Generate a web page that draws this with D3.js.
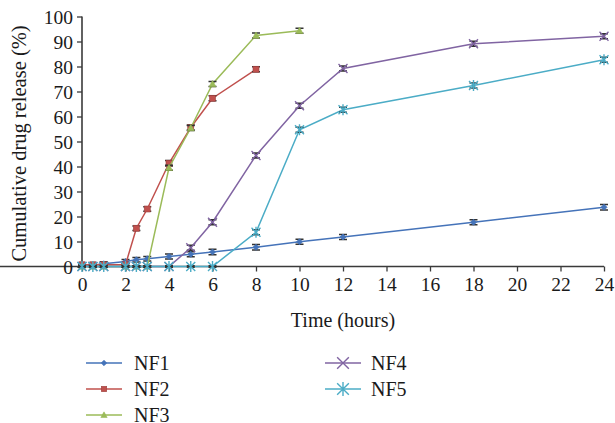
<!DOCTYPE html>
<html>
<head>
<meta charset="utf-8">
<script src="https://cdn.jsdelivr.net/npm/d3@7"></script>
<style>
  html, body { margin: 0; padding: 0; background: #fff; }
  svg { display: block; }
  text { font-family: "Liberation Serif", "DejaVu Serif", serif; fill: #1a1a1a; }
</style>
</head>
<body>
<svg id="chart" width="615" height="423"></svg>
<script>
// ---- data ----
const seriesNames = ["NF1", "NF2", "NF3", "NF4", "NF5"];
const timesLong = [0, 0.5, 1, 2, 2.5, 3, 4, 5, 6, 8, 10, 12, 18, 24];
const timesNF2 = [0, 0.5, 1, 2, 2.5, 3, 4, 5, 6, 8];
const timesNF3 = [0, 0.5, 1, 2, 2.5, 3, 4, 5, 6, 8, 10];
const nf1 = [0.3, 0.5, 1.1, 2.0, 2.7, 3.1, 4.0, 4.9, 5.8, 7.7, 9.9, 11.8, 17.7, 23.7];
const nf2 = [0.7, 0.7, 0.7, 0.7, 15.3, 23.0, 41.3, 55.6, 67.3, 78.9];
const nf3 = [0, 0, 0, 0, 0, 0, 39.5, 55.4, 73.0, 92.4, 94.3];
const nf4 = [0, 0, 0, 0, 0, 0, 0, 7.5, 17.7, 44.4, 64.3, 79.2, 89.1, 92.1];
const nf5 = [0, 0, 0, 0, 0, 0, 0, 0, 0, 13.7, 54.7, 62.7, 72.4, 82.7];
const errNF1 = [0.4, 0.4, 0.8, 0.8, 0.9, 0.9, 1.0, 1.0, 1.1, 1.1, 1.0, 1.0, 1.0, 1.1];
const errNF2 = [0.4, 0.4, 0.4, 0.4, 0.9, 0.9, 1.1, 1.0, 1.0, 1.0];
const errNF3 = [0.3, 0.3, 0.3, 0.3, 0.3, 0.3, 1.0, 1.0, 1.0, 1.0, 1.0];
const errNF4 = [0.3, 0.3, 0.3, 0.3, 0.3, 0.3, 0.3, 1.0, 1.0, 1.0, 1.0, 1.0, 1.0, 1.0];
const errNF5 = [0.3, 0.3, 0.3, 0.3, 0.3, 0.3, 0.3, 0.3, 0.3, 1.0, 1.0, 1.0, 1.0, 1.0];
const xTicks = [0, 2, 4, 6, 8, 10, 12, 14, 16, 18, 20, 22, 24];
const yTicks = [0, 10, 20, 30, 40, 50, 60, 70, 80, 90, 100];
const xTitle = "Time (hours)";
const yTitle = "Cumulative drug release (%)";

// ---- styling ----
const colors = ["#4573B9", "#C0504D", "#9BBB59", "#8064A2", "#4BACC6"];
const markers = ["diamond", "square", "triangle", "x", "star"];

const svg = d3.select("#chart");
const x = d3.scaleLinear().domain([0, 24]).range([82, 604]);
const y = d3.scaleLinear().domain([0, 100]).range([266.5, 16.5]);

const series = [
  { name: seriesNames[0], t: timesLong, v: nf1, e: errNF1 },
  { name: seriesNames[1], t: timesNF2, v: nf2, e: errNF2 },
  { name: seriesNames[2], t: timesNF3, v: nf3, e: errNF3 },
  { name: seriesNames[3], t: timesLong, v: nf4, e: errNF4 },
  { name: seriesNames[4], t: timesLong, v: nf5, e: errNF5 }
];

// axes
const axisColor = "#3a3a3a";
const gx = svg.append("g").attr("transform", `translate(0,${y(0)})`)
  .call(d3.axisBottom(x).tickValues(xTicks).tickSize(5).tickPadding(6).tickFormat(d3.format("d")));
const gy = svg.append("g").attr("transform", `translate(${x(0)},0)`)
  .call(d3.axisLeft(y).tickValues(yTicks).tickSize(5).tickPadding(4).tickFormat(d3.format("d")));
[gx, gy].forEach(g => {
  g.select(".domain").attr("stroke", axisColor).attr("stroke-width", 1.6);
  g.selectAll(".tick line").attr("stroke", axisColor).attr("stroke-width", 1.3);
  g.selectAll(".tick text").attr("font-family", "Liberation Serif, serif").attr("font-size", 19.5).attr("fill", "#1a1a1a");
});
gy.select(".domain").attr("d", `M0,${y(0)}V${y(100)}`);
gx.select(".domain").attr("d", `M0,0H${x(24)}`);
gy.selectAll(".tick text").attr("dy", "0.34em");

svg.append("text").attr("x", 343).attr("y", 327).attr("text-anchor", "middle")
  .attr("font-size", 20).text(xTitle);
svg.append("text").attr("transform", `translate(26,${(y(0) + y(100)) / 2 + 2}) rotate(-90)`)
  .attr("text-anchor", "middle").attr("font-size", 20.5).text(yTitle);

function drawMarker(g, type, cx, cy, color, scale = 1) {
  if (type === "diamond") {
    const s = 3 * scale;
    g.append("path").attr("d", `M${cx},${cy - s}L${cx + s},${cy}L${cx},${cy + s}L${cx - s},${cy}Z`).attr("fill", color).attr("stroke", color).attr("stroke-width", 0.8);
  } else if (type === "square") {
    const s = 3 * scale;
    g.append("rect").attr("x", cx - s).attr("y", cy - s).attr("width", 2 * s).attr("height", 2 * s).attr("fill", color).attr("stroke", d3.color(color).darker(0.6)).attr("stroke-width", 0.6);
  } else if (type === "triangle") {
    const s = 3.5 * scale;
    g.append("path").attr("d", `M${cx},${cy - s}L${cx + s},${cy + s * 0.8}L${cx - s},${cy + s * 0.8}Z`).attr("fill", color).attr("stroke", color).attr("stroke-width", 0.6);
  } else if (type === "x") {
    const s = 4.5 * scale;
    g.append("path").attr("d", `M${cx - s},${cy - s}L${cx + s},${cy + s}M${cx - s},${cy + s}L${cx + s},${cy - s}`).attr("stroke", color).attr("stroke-width", 1.4).attr("fill", "none");
  } else if (type === "star") {
    const s = 4.5 * scale;
    g.append("path").attr("d", `M${cx - s},${cy - s}L${cx + s},${cy + s}M${cx - s},${cy + s}L${cx + s},${cy - s}M${cx},${cy - s * 1.2}L${cx},${cy + s * 1.2}`).attr("stroke", color).attr("stroke-width", 1.4).attr("fill", "none");
  }
}

const line = d3.line().x(d => x(d[0])).y(d => y(d[1]));
series.forEach((s, i) => {
  const g = svg.append("g");
  const pts = s.t.map((t, k) => [t, s.v[k], s.e[k]]);
  g.append("path").datum(pts).attr("d", line).attr("fill", "none")
    .attr("stroke", colors[i]).attr("stroke-width", 1.5);
  // error bars
  pts.forEach(p => {
    const cx = x(p[0]), y1 = y(p[1] - p[2]), y2 = y(p[1] + p[2]);
    g.append("path").attr("d", `M${cx},${y1}V${y2}M${cx - 4},${y1}H${cx + 4}M${cx - 4},${y2}H${cx + 4}`)
      .attr("stroke", "#333").attr("stroke-width", 1.5).attr("fill", "none");
  });
  pts.forEach(p => drawMarker(g, markers[i], x(p[0]), y(p[1]), colors[i]));
});

// legend
const legendPos = [[86, 363], [86, 389], [86, 415], [325, 363], [325, 389]];
series.forEach((s, i) => {
  const [lx, ly] = legendPos[i];
  const g = svg.append("g");
  g.append("line").attr("x1", lx).attr("x2", lx + 36).attr("y1", ly).attr("y2", ly)
    .attr("stroke", colors[i]).attr("stroke-width", 1.5);
  drawMarker(g, markers[i], lx + 18, ly, colors[i], i >= 3 ? 1.3 : 0.9);
  g.append("text").attr("x", lx + (i >= 3 ? 46 : 48)).attr("y", ly + 7).attr("font-size", 20).text(s.name);
});
</script>
</body>
</html>
